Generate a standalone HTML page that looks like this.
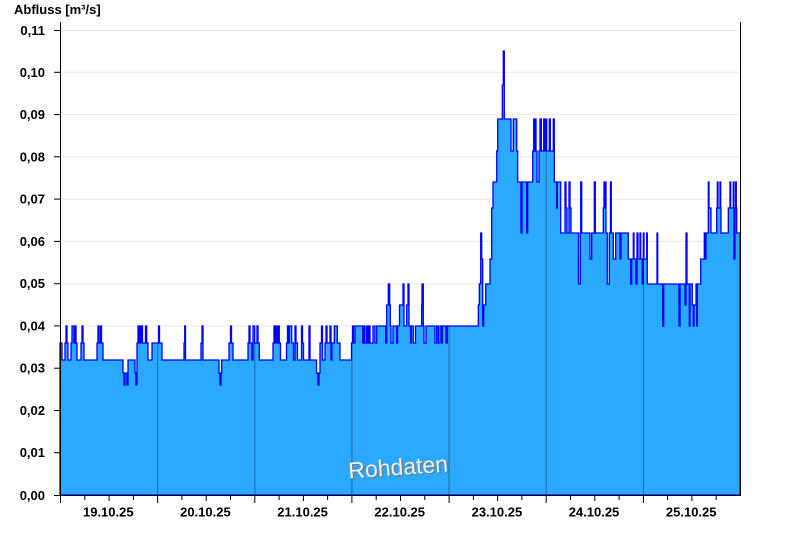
<!DOCTYPE html>
<html>
<head>
<meta charset="utf-8">
<style>
html,body{margin:0;padding:0;background:#fff;}
svg{display:block;}
text{font-family:"Liberation Sans",Arial,sans-serif;}
</style>
</head>
<body>
<svg width="800" height="550" viewBox="0 0 800 550" xmlns="http://www.w3.org/2000/svg">
<defs>
<clipPath id="fillclip">
<path id="dp" d="M60,495 V343
H62 V360 H65 V343 H66 V326 H67 V343 H68 V360 H71 V343 H72 V326 H74 V343 H75 V326 H76 V343 H77 V360 H81 V343 H82 V326 H83 V343 H84 V360 H97 V343 H98 V326 H99 V343 H100.5 V326 H101.5 V343 H103 V360
H123 V373 H124 V385 H125 V373 H127 V385 H128 V360 H135 V373 H136 V385 H137 V343 H138 V326 H139 V343 H139.7 V326 H140.5 V343 H141.7 V326 H142.5 V343 H145.5 V326 H146.7 V343 H148 V360 H152 V343 H158.5 V326 H159.5 V343 H162 V360
H184 V343 H184.7 V326 H185.5 V360 H201 V343 H202 V326 H203 V360 H219 V373 H220 V385 H221 V373 H221.7 V360 H229 V343 H230.5 V326 H231.5 V343 H233 V360
H248 V343 H249 V326 H250 V343 H252 V360 H253 V326 H254.7 V343 H257 V326 H258 V343 H259.3 V360
H273 V343 H274 V326 H275 V343 H276 V326 H277 V343 H278 V326 H279.3 V343 H280.5 V360
H286.5 V343 H287.5 V326 H288.5 V343 H289.3 V326 H291.7 V343 H293.5 V360 H295 V326 H296 V343 H297.5 V360
H301.5 V326 H302.5 V343 H303.5 V360 H309 V326 H310 V360 H316.5 V373 H318 V385 H319 V373 H320 V343 H321.5 V326 H322.5 V360 H325 V343 H326 V326 H327 V343 H330 V326 H331 V360 H332 V343 H334.3 V326 H337.3 V343 H340 V360
H351.5 V343 H352.5 V326 H353.5 V343 H355 V326 H362.7 V343 H364 V326 H365 V343 H366.7 V326 H367.7 V343 H369 V326 H370 V343 H373 V326 H375 V343 H376.7 V326
H385.7 V343 H386.7 V305 H388.3 V284 H389.7 V305 H390.3 V326 H391 V343 H393 V326 H396.7 V343 H397.5 V326 H399.5 V305 H403 V284 H404 V326 H406.7 V305 H408 V284 H409 V326 H410.7 V343 H411.3 V326 H413.3 V343 H415.5 V326 H421.7 V305 H422 V284 H423.3 V326 H424 V343 H426 V326
H435 V343 H436.7 V326 H438.3 V343 H440 V326 H441.7 V343 H442.3 V326 H446 V343 H447.3 V326
H478.3 V305 H479.3 V284 H480.7 V233 H481.7 V259 H482.7 V326 H483.7 V305 H485.7 V284 H490 V259 H491.7 V208 H493 V182 H496.7 V151 H497.7 V119 H502.3 V85 H503.3 V51 H504.3 V119 H511 V151 H513.3 V119 H516.7 V151 H517.7 V182 H521 V233 H522 V182 H526.7 V233 H527.7 V182
H532.7 V151 H533.7 V119 H534.3 V151 H535.3 V119 H536 V151 H537 V182 H539 V151 H540 V119 H541.3 V151 H543.7 V119 H544.7 V151 H545.7 V119 H546.7 V151 H549.3 V119 H550.3 V151 H553.3 V119 H554.3 V182 H556.7 V208 H557.3 V182 H560.7 V233
H565 V182 H566 V208 H567 V233 H569 V182 H570 V208 H571 V233 H578.5 V284 H580.3 V233 H580.7 V182 H581.7 V233 H590 V259 H591.7 V233 H594.3 V182 H595.3 V233
H603.3 V208 H604 V182 H605 V208 H605.3 V182 H606 V233 H607.3 V284 H609.3 V233 H610.5 V182 H611.3 V233 H613.3 V259 H615.7 V233 H620 V259 H621 V233
H628.3 V259 H630.7 V284 H631.7 V259 H633.3 V233 H634 V259 H636 V284 H637 V233 H638 V259 H640 V233 H640.7 V259 H642.3 V284 H643.3 V233 H644 V259 H646.7 V233 H647.3 V284
H657 V233 H657.7 V284 H662.7 V326 H663.7 V284 H679 V326 H680 V284 H685 V305 H686 V233 H687 V284 H689.3 V326 H690 V284 H692.3 V305 H693.3 V326 H694 V305 H696 V284 H696.7 V326 H697.3 V284 H700.7 V259 H704.3 V233 H704.7 V259 H706 V233 H708.3 V182 H709 V208 H711 V233 H716.7 V208 H717.3 V182 H718 V208 H720 V182 H720.7 V208 H721 V233 H728.3 V208 H730 V182 H730.7 V208 H733.3 V182 H734 V259 H735 V208 H735.7 V182 H736.3 V208 H736.7 V233 H740 V495 Z"/>
</clipPath>
</defs>

<!-- horizontal gridlines -->
<g stroke="#e8e8e8" stroke-width="1">
<line x1="61" y1="452.7" x2="740" y2="452.7"/>
<line x1="61" y1="410.5" x2="740" y2="410.5"/>
<line x1="61" y1="368.2" x2="740" y2="368.2"/>
<line x1="61" y1="325.9" x2="740" y2="325.9"/>
<line x1="61" y1="283.7" x2="740" y2="283.7"/>
<line x1="61" y1="241.4" x2="740" y2="241.4"/>
<line x1="61" y1="199.1" x2="740" y2="199.1"/>
<line x1="61" y1="156.8" x2="740" y2="156.8"/>
<line x1="61" y1="114.6" x2="740" y2="114.6"/>
<line x1="61" y1="72.3" x2="740" y2="72.3"/>
<line x1="61" y1="30.5" x2="740" y2="30.5"/>
</g>

<!-- fill -->
<use href="#dp" fill="#2ba8ff" stroke="none"/>

<!-- day divider lines inside fill -->
<g clip-path="url(#fillclip)" stroke="#1f6c9c" stroke-width="1">
<line x1="157.6" y1="20" x2="157.6" y2="495"/>
<line x1="254.8" y1="20" x2="254.8" y2="495"/>
<line x1="351.9" y1="20" x2="351.9" y2="495"/>
<line x1="449.1" y1="20" x2="449.1" y2="495"/>
<line x1="546.2" y1="20" x2="546.2" y2="495"/>
<line x1="643.4" y1="20" x2="643.4" y2="495"/>
</g>

<!-- step line -->
<use href="#dp" fill="none" stroke="#0000ff" stroke-width="1.3"/>

<!-- watermark -->
<g transform="rotate(-4 398 466)">
<text x="399.5" y="476.5" font-size="23" fill="#6a7f90" text-anchor="middle">Rohdaten</text>
<text x="398" y="475" font-size="23" fill="#f0f0f0" text-anchor="middle">Rohdaten</text>
</g>

<!-- axes -->
<g stroke="#000" stroke-width="1">
<line x1="60.5" y1="22" x2="60.5" y2="495.5"/>
<line x1="740.5" y1="22" x2="740.5" y2="495.5"/>
<line x1="60" y1="495.5" x2="741" y2="495.5"/>
</g>

<!-- y ticks -->
<g stroke="#000" stroke-width="1">
<line x1="54" y1="495.5" x2="60" y2="495.5"/>
<line x1="54" y1="452.7" x2="60" y2="452.7"/>
<line x1="54" y1="410.5" x2="60" y2="410.5"/>
<line x1="54" y1="368.2" x2="60" y2="368.2"/>
<line x1="54" y1="325.9" x2="60" y2="325.9"/>
<line x1="54" y1="283.7" x2="60" y2="283.7"/>
<line x1="54" y1="241.4" x2="60" y2="241.4"/>
<line x1="54" y1="199.1" x2="60" y2="199.1"/>
<line x1="54" y1="156.8" x2="60" y2="156.8"/>
<line x1="54" y1="114.6" x2="60" y2="114.6"/>
<line x1="54" y1="72.3" x2="60" y2="72.3"/>
<line x1="54" y1="30.5" x2="60" y2="30.5"/>
</g>
<g font-size="13" font-weight="bold" fill="#000" text-anchor="end">
<text x="45" y="500">0,00</text>
<text x="45" y="457.2">0,01</text>
<text x="45" y="415">0,02</text>
<text x="45" y="372.7">0,03</text>
<text x="45" y="330.4">0,04</text>
<text x="45" y="288.2">0,05</text>
<text x="45" y="245.9">0,06</text>
<text x="45" y="203.6">0,07</text>
<text x="45" y="161.3">0,08</text>
<text x="45" y="119.1">0,09</text>
<text x="45" y="76.8">0,10</text>
<text x="45" y="35">0,11</text>
</g>
<text x="14" y="14" font-size="13" font-weight="bold" fill="#000">Abfluss [m³/s]</text>

<!-- x ticks -->
<g stroke="#000" stroke-width="1">
<line x1="60.5" y1="495" x2="60.5" y2="503"/>
<line x1="84.8" y1="495" x2="84.8" y2="500"/>
<line x1="109.1" y1="495" x2="109.1" y2="501"/>
<line x1="133.4" y1="495" x2="133.4" y2="500"/>
<line x1="157.6" y1="495" x2="157.6" y2="503"/>
<line x1="181.9" y1="495" x2="181.9" y2="500"/>
<line x1="206.2" y1="495" x2="206.2" y2="501"/>
<line x1="230.5" y1="495" x2="230.5" y2="500"/>
<line x1="254.8" y1="495" x2="254.8" y2="503"/>
<line x1="279.1" y1="495" x2="279.1" y2="500"/>
<line x1="303.4" y1="495" x2="303.4" y2="501"/>
<line x1="327.6" y1="495" x2="327.6" y2="500"/>
<line x1="351.9" y1="495" x2="351.9" y2="503"/>
<line x1="376.2" y1="495" x2="376.2" y2="500"/>
<line x1="400.5" y1="495" x2="400.5" y2="501"/>
<line x1="424.8" y1="495" x2="424.8" y2="500"/>
<line x1="449.1" y1="495" x2="449.1" y2="503"/>
<line x1="473.4" y1="495" x2="473.4" y2="500"/>
<line x1="497.6" y1="495" x2="497.6" y2="501"/>
<line x1="521.9" y1="495" x2="521.9" y2="500"/>
<line x1="546.2" y1="495" x2="546.2" y2="503"/>
<line x1="570.5" y1="495" x2="570.5" y2="500"/>
<line x1="594.8" y1="495" x2="594.8" y2="501"/>
<line x1="619.1" y1="495" x2="619.1" y2="500"/>
<line x1="643.4" y1="495" x2="643.4" y2="503"/>
<line x1="667.6" y1="495" x2="667.6" y2="500"/>
<line x1="691.9" y1="495" x2="691.9" y2="501"/>
<line x1="716.2" y1="495" x2="716.2" y2="500"/>
</g>
<g font-size="13" font-weight="bold" fill="#000" text-anchor="middle">
<text x="108.3" y="516.5">19.10.25</text>
<text x="205.4" y="516.5">20.10.25</text>
<text x="302.6" y="516.5">21.10.25</text>
<text x="399.7" y="516.5">22.10.25</text>
<text x="496.9" y="516.5">23.10.25</text>
<text x="594" y="516.5">24.10.25</text>
<text x="691.2" y="516.5">25.10.25</text>
</g>
</svg>
</body>
</html>
